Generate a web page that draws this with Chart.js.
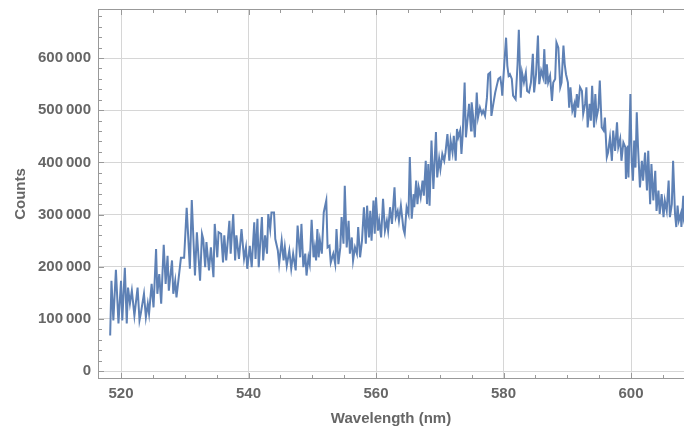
<!DOCTYPE html>
<html><head><meta charset="utf-8">
<script src="https://cdn.jsdelivr.net/npm/chart.js@4.4.0/dist/chart.umd.min.js"></script>
<style>html,body{margin:0;padding:0;background:#fff;overflow:hidden}#wrap{width:684px;height:430px;position:relative}canvas{display:block}</style>
</head><body><div id="wrap"><canvas id="c" width="684" height="430"></canvas></div>
<script>
const wavelengths = [
518.3,518.5,518.8,519.2,519.6,520.0,520.2,520.6,520.9,521.1,521.4,521.7,522.1,522.6,522.9,523.1,523.6,523.9,524.2,524.4,
524.8,525.1,525.5,525.7,526.0,526.3,526.7,527.0,527.3,527.5,528.0,528.2,528.5,528.7,529.4,529.9,530.3,530.8,531.1,531.6,
531.9,532.4,532.7,532.9,533.2,533.4,533.8,534.1,534.5,534.7,535.1,535.3,535.7,536.0,536.2,536.5,537.0,537.2,537.6,537.9,
538.1,538.5,538.9,539.3,539.6,539.8,540.2,540.5,540.9,541.1,541.4,541.6,542.1,542.3,542.6,542.9,543.1,543.4,543.6,544.0,
544.2,544.6,544.8,545.2,545.5,545.7,546.0,546.4,546.7,547.0,547.4,547.7,548.1,548.3,548.6,548.9,549.1,549.4,549.6,549.9,
550.2,550.4,550.6,550.8,551.0,551.2,551.5,551.8,552.2,552.4,552.7,552.9,553.3,553.6,553.8,554.1,554.4,554.6,554.9,555.1,
555.4,555.7,555.9,556.2,556.4,556.7,557.0,557.2,557.5,557.8,558.1,558.4,558.6,558.9,559.1,559.3,559.6,559.8,560.0,560.3,
560.5,560.8,561.1,561.4,561.7,561.9,562.2,562.5,562.9,563.1,563.4,563.6,563.9,564.3,564.5,564.8,565.1,565.3,565.6,565.9,
566.0,566.3,566.5,566.7,567.0,567.3,567.5,567.8,568.0,568.2,568.4,568.7,569.0,569.4,569.6,569.9,570.1,570.4,570.7,570.9,
571.2,571.5,571.7,572.0,572.2,572.5,572.7,572.9,573.2,573.4,573.6,573.9,574.1,574.3,574.6,574.9,575.0,575.3,575.5,575.8,
576.0,576.3,576.6,576.8,577.1,577.4,577.6,577.9,578.1,578.4,578.7,579.0,579.2,579.5,579.7,579.8,580.1,580.4,580.6,580.8,
581.0,581.3,581.5,581.9,582.2,582.4,582.7,582.9,583.2,583.5,583.7,584.0,584.3,584.6,584.8,585.1,585.4,585.6,585.9,586.2,
586.4,586.6,586.8,587.0,587.3,587.6,587.8,588.1,588.3,588.6,588.9,589.1,589.4,589.6,589.8,590.1,590.3,590.5,590.8,591.1,
591.2,591.5,591.7,592.0,592.3,592.5,592.8,593.0,593.2,593.5,593.7,593.9,594.2,594.4,594.6,594.9,595.1,595.4,595.7,595.9,
596.2,596.4,596.7,597.0,597.2,597.5,597.8,598.0,598.3,598.5,598.8,599.1,599.2,599.5,599.6,599.9,600.1,600.3,600.5,600.7,
600.9,601.1,601.4,601.7,601.9,602.2,602.5,602.7,603.0,603.2,603.5,603.8,604.0,604.3,604.5,604.8,605.1,605.3,605.6,605.9,
606.1,606.4,606.6,606.9,607.1,607.3,607.5,607.8,607.9,608.2,608.3,608.6
];
const counts = [
68000,173000,97000,194000,91000,173000,97000,198000,91000,160000,129000,154000,106000,160000,97000,110000,148000,103000,129000,110000,
167000,122000,234000,148000,186000,129000,242000,167000,221000,154000,212000,148000,173000,141000,217000,217000,313000,196000,328000,183000,
266000,173000,263000,253000,199000,247000,193000,237000,180000,282000,218000,266000,263000,208000,260000,212000,288000,225000,301000,212000,
260000,215000,272000,215000,237000,196000,240000,199000,285000,215000,292000,199000,295000,212000,260000,225000,301000,272000,304000,304000,
253000,231000,205000,250000,212000,237000,202000,231000,196000,225000,193000,279000,218000,282000,199000,225000,183000,218000,205000,290000,
218000,237000,212000,272000,218000,250000,225000,304000,327000,237000,240000,208000,225000,205000,272000,205000,237000,295000,244000,355000,
237000,288000,225000,256000,212000,237000,225000,276000,218000,250000,314000,244000,317000,256000,307000,250000,327000,263000,333000,269000,
288000,256000,330000,269000,288000,269000,314000,282000,352000,295000,307000,288000,317000,272000,263000,314000,301000,410000,292000,339000,
314000,365000,320000,352000,333000,365000,336000,403000,320000,397000,317000,442000,349000,458000,371000,407000,387000,416000,403000,419000,
454000,403000,442000,419000,451000,403000,464000,448000,461000,416000,454000,553000,448000,474000,512000,461000,515000,480000,448000,534000,
486000,505000,493000,499000,489000,524000,569000,572000,489000,512000,534000,550000,560000,563000,544000,528000,585000,639000,585000,566000,
569000,560000,528000,521000,588000,654000,524000,572000,553000,572000,537000,534000,553000,608000,534000,569000,643000,550000,576000,563000,
617000,550000,588000,553000,566000,518000,553000,560000,630000,620000,544000,553000,624000,588000,569000,553000,505000,544000,499000,512000,
486000,531000,505000,544000,537000,493000,512000,544000,467000,512000,480000,547000,467000,531000,486000,505000,557000,467000,461000,486000,
410000,419000,448000,403000,461000,422000,477000,429000,445000,403000,438000,429000,368000,432000,371000,531000,403000,365000,442000,390000,
496000,429000,352000,403000,365000,419000,346000,422000,320000,397000,327000,384000,307000,346000,301000,339000,295000,327000,307000,365000,
295000,320000,403000,301000,276000,317000,288000,301000,276000,336000,295000,310000
];
const xTickValues = [520, 540, 560, 580, 600];
const xTickLabels = ['520', '540', '560', '580', '600'];
const yTickValues = [0, 100000, 200000, 300000, 400000, 500000, 600000];
const yTickLabels = ['0', '100\u2009000', '200\u2009000', '300\u2009000', '400\u2009000', '500\u2009000', '600\u2009000'];
const xAxisTitle = 'Wavelength (nm)';
const yAxisTitle = 'Counts';

const FONT = "'Liberation Sans', Arial, sans-serif";
const LABEL_COLOR = '#666666';
const FRAME_COLOR = '#999999';

const framePlugin = {
  id: 'frame',
  afterDatasetsDraw(chart) {
    const {ctx, chartArea: a, scales: {x, y}} = chart;
    ctx.save();
    ctx.strokeStyle = FRAME_COLOR;
    ctx.lineWidth = 1;
    ctx.beginPath();
    ctx.moveTo(a.left + 0.5, a.top + 0.5); ctx.lineTo(a.left + 0.5, a.bottom - 0.5);
    ctx.moveTo(a.left, a.top + 0.5); ctx.lineTo(a.right, a.top + 0.5);
    ctx.moveTo(a.left, a.bottom - 0.5); ctx.lineTo(a.right, a.bottom - 0.5);
    for (let v = 520; v <= 605; v += 5) {
      const px = Math.round(x.getPixelForValue(v)) + 0.5;
      const len = xTickValues.includes(v) ? 6 : 4;
      ctx.moveTo(px, a.bottom); ctx.lineTo(px, a.bottom - len);
      ctx.moveTo(px, a.top); ctx.lineTo(px, a.top + len);
    }
    for (let v = 0; v <= 680000; v += 20000) {
      const py = Math.round(y.getPixelForValue(v)) + 0.5;
      const len = yTickValues.includes(v) ? 6 : 4;
      ctx.moveTo(a.left, py); ctx.lineTo(a.left + len, py);
    }
    ctx.stroke();
    ctx.restore();
  }
};

new Chart(document.getElementById('c'), {
  type: 'line',
  data: {
    datasets: [{
      data: wavelengths.map((w, i) => ({x: w, y: counts[i]})),
      borderColor: '#5E81B5',
      borderWidth: 2,
      pointRadius: 0,
      tension: 0,
      fill: false
    }]
  },
  options: {
    responsive: false,
    animation: false,
    devicePixelRatio: 1,
    layout: {padding: {top: 9, right: 0, bottom: 0, left: 0}},
    plugins: {legend: {display: false}, tooltip: {enabled: false}},
    scales: {
      x: {
        type: 'linear', position: 'bottom',
        min: 516.39, max: 608.31,
        afterBuildTicks: s => { s.ticks = xTickValues.map(v => ({value: v})); },
        afterFit: s => { s.height = 51; s.paddingLeft = 0; s.paddingRight = 0; },
        ticks: {
          callback: (v, i) => xTickLabels[i],
          font: {family: FONT, size: 15, weight: 'bold'},
          color: LABEL_COLOR, padding: 6, maxRotation: 0, autoSkip: false
        },
        grid: {color: '#d6d6d6', lineWidth: 1, drawTicks: false},
        border: {display: false},
        title: {display: true, text: xAxisTitle, color: LABEL_COLOR,
          font: {family: FONT, size: 15, weight: 'bold'}, padding: {top: 0, bottom: 2}}
      },
      y: {
        type: 'linear', position: 'left',
        min: -15300, max: 694000,
        afterBuildTicks: s => { s.ticks = yTickValues.map(v => ({value: v})); },
        afterFit: s => { s.width = 98; s.paddingTop = 0; s.paddingBottom = 0; },
        ticks: {
          callback: (v, i) => yTickLabels[i],
          font: {family: FONT, size: 15, weight: 'bold'},
          color: LABEL_COLOR, padding: 7, autoSkip: false
        },
        grid: {color: '#d6d6d6', lineWidth: 1, drawTicks: false},
        border: {display: false},
        title: {display: true, text: yAxisTitle, color: LABEL_COLOR,
          font: {family: FONT, size: 15, weight: 'bold'}, padding: {top: 12, bottom: 0}}
      }
    }
  },
  plugins: [framePlugin]
});
</script>
</body></html>
